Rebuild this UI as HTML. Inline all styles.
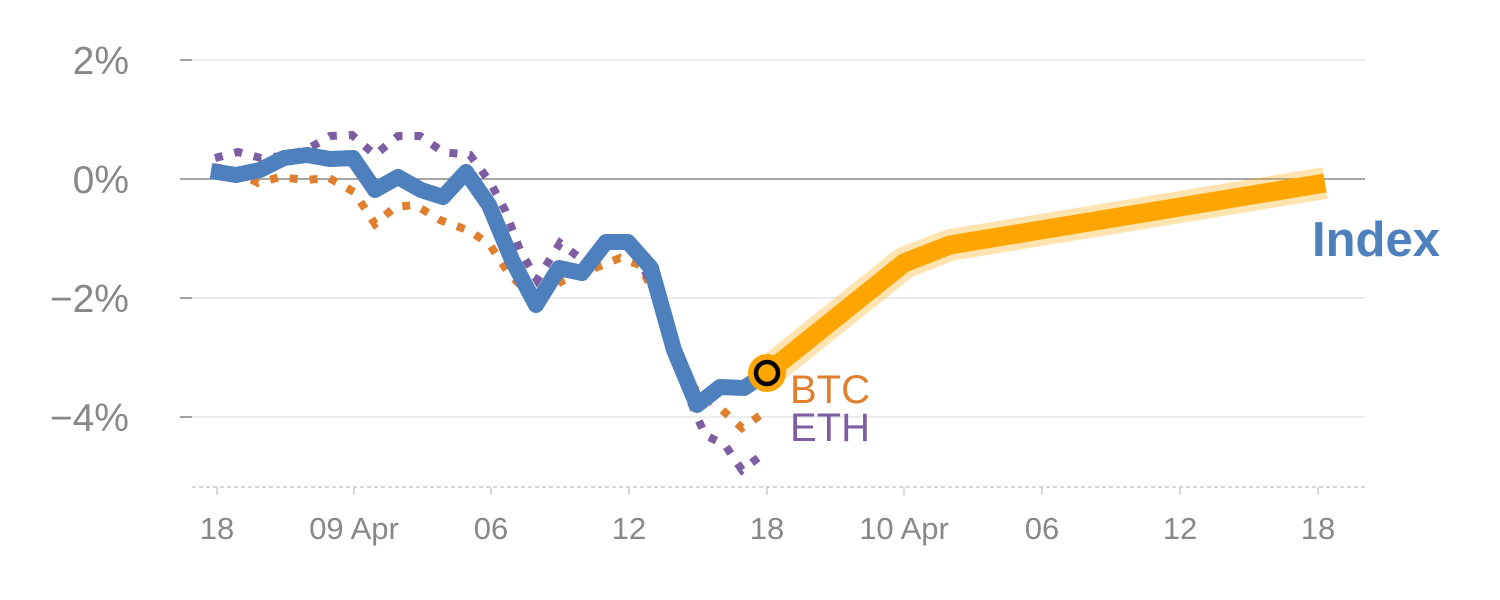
<!DOCTYPE html>
<html><head><style>body{margin:0;background:#fff}svg{display:block}text{font-family:"Liberation Sans",sans-serif}</style></head><body>
<svg width="1500" height="600" viewBox="0 0 1500 600">
<g stroke="#e6e6e6" stroke-width="1.5">
<line x1="180" y1="60" x2="1365" y2="60"/><line x1="180" y1="298" x2="1365" y2="298"/><line x1="180" y1="417" x2="1365" y2="417"/>
</g>
<line x1="180" y1="179" x2="1365" y2="179" stroke="#888" stroke-width="1.5"/>
<line x1="192" y1="487" x2="1365" y2="487" stroke="#ccc" stroke-width="1.5" stroke-dasharray="4,3"/>
<g stroke="#888" stroke-width="1.5"><line x1="180" y1="60" x2="192" y2="60"/><line x1="180" y1="298" x2="192" y2="298"/><line x1="180" y1="417" x2="192" y2="417"/></g>
<g fill="#888" font-size="39" text-anchor="end">
<text x="129" y="74">2%</text><text x="129" y="193">0%</text><text x="129" y="312">−2%</text><text x="129" y="431">−4%</text></g>
<g stroke="#ccc" stroke-width="1.5"><line x1="217" y1="487" x2="217" y2="495"/><line x1="354" y1="487" x2="354" y2="495"/><line x1="491" y1="487" x2="491" y2="495"/><line x1="629" y1="487" x2="629" y2="495"/><line x1="767" y1="487" x2="767" y2="495"/><line x1="904" y1="487" x2="904" y2="495"/><line x1="1042" y1="487" x2="1042" y2="495"/><line x1="1180" y1="487" x2="1180" y2="495"/><line x1="1318" y1="487" x2="1318" y2="495"/></g>
<g fill="#888" font-size="31" text-anchor="middle">
<text x="217" y="539">18</text><text x="354" y="539">09 Apr</text><text x="491" y="539">06</text><text x="629" y="539">12</text><text x="767" y="539">18</text><text x="904" y="539">10 Apr</text><text x="1042" y="539">06</text><text x="1180" y="539">12</text><text x="1318" y="539">18</text></g>
<polyline fill="none" stroke="#e07f2e" stroke-width="8" stroke-dasharray="8,12" points="214,167 236,171 258,183 280,177 305,180 329,178 354,192 375,224 395,207 415,205 440,220 470,231 490,245 510,275 538,302 560,282 590,270 620,258 640,265 660,305 690,385 720,408 742,428 765,412"/>
<polyline fill="none" stroke="#7d5ea3" stroke-width="8" stroke-dasharray="8,12" points="215,158 238,152 261,158 283,156 306,150 330,136 352,135 375,155 398,136 420,136 443,152 470,155 490,182 505,210 520,250 537,280 560,243 585,262 610,245 630,243 655,290 672,340 690,400 705,435 725,445 742,470 762,455"/>
<polyline fill="none" stroke="#4e80bd" stroke-width="16" stroke-linejoin="round" points="211,171 236,175 260,170 284,158 307,155 330,159 353,158 375,190 398,177 421,190 443,197 466,172 489,205 512,260 536,305 559,268 582,273 606,242 628,242 651,268 674,350 697,405 720,387 744,388 767,373"/>
<polyline fill="none" stroke="#ffa500" stroke-opacity="0.3" stroke-width="32" points="767,373 904,263 950,245 1325,183"/>
<polyline fill="none" stroke="#ffa500" stroke-width="19" points="767,373 904,263 950,245 1325,183"/>
<circle cx="767" cy="373" r="19" fill="#ffa500"/>
<circle cx="767" cy="373" r="11" fill="#ffa500" stroke="#000" stroke-width="4.5"/>
<text x="790" y="403" font-size="40" fill="#e07f2e">BTC</text>
<text x="790" y="441" font-size="40" fill="#7d5ea3">ETH</text>
<text x="1312" y="256" font-size="49" font-weight="bold" fill="#4e80bd">Index</text>
</svg></body></html>
